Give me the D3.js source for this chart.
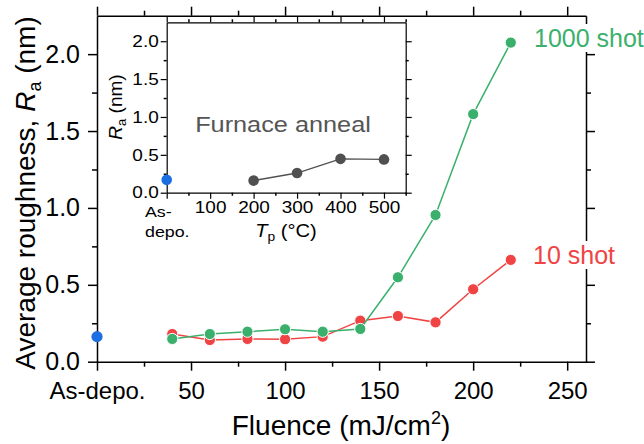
<!DOCTYPE html>
<html>
<head>
<meta charset="utf-8">
<script src="https://cdn.jsdelivr.net/npm/d3@7"></script>
<style>
  html, body { margin: 0; padding: 0; background: #fff; }
  svg { display: block; font-family: "Liberation Sans", Arial, sans-serif; }
  .domain, .tick line { stroke: #000; stroke-width: 1.5; }
  .tick text { fill: #000; }
</style>
</head>
<body>
<div id="chart"></div>
<script>
// main plot data (laser anneal)
const fluence = [40, 60, 80, 100, 120, 140, 160, 180, 200, 220];
const ra10Shot = [0.18, 0.141, 0.148, 0.146, 0.163, 0.267, 0.297, 0.256, 0.471, 0.662];
const ra1000Shot = [0.148, 0.18, 0.195, 0.211, 0.195, 0.213, 0.549, 0.954, 1.61, 2.075];
const asDepoRa = 0.163;

const xMajor = [0, 50, 100, 150, 200, 250];
const xMinor = [25, 75, 125, 175, 225];
const yMajor = [0, 0.5, 1.0, 1.5, 2.0];
const yMinor = [0.25, 0.75, 1.25, 1.75];

// inset data (furnace anneal)
const annealTemp = [200, 300, 400, 500];
const annealRa = [0.16, 0.26, 0.447, 0.44];
const insetAsDepoRa = 0.17;

const insetXMajor = [0, 100, 200, 300, 400, 500];
const insetXMinor = [50, 150, 250, 350, 450, 550];

const colors = { shot10: "#f04343", shot1000: "#3bb06d", asDepo: "#1b6fe2", furnace: "#505050" };

const width = 644, height = 444;
const svg = d3.select("#chart").append("svg")
  .attr("width", width).attr("height", height);

const x = d3.scaleLinear([0, 260], [97, 586]);
const y = d3.scaleLinear([0, 2.25], [361.7, 15.7]);

function drawAxis(axis, tx, ty, cls) {
  const g = svg.append("g").attr("class", cls)
    .attr("transform", `translate(${tx},${ty})`).call(axis);
  return g;
}
function noDomain(g) { g.select(".domain").remove(); }

const fmt = d3.format(".1f");

// main axes - major
drawAxis(d3.axisBottom(x).tickValues(xMajor).tickSize(9).tickSizeOuter(0).tickPadding(11)
  .tickFormat(d => d === 0 ? "As-depo." : d), 0, y.range()[0], "xb")
  .selectAll("text").style("font-size", "24px");
drawAxis(d3.axisTop(x).tickValues(xMajor).tickSize(9).tickSizeOuter(0).tickFormat(""), 0, y.range()[1], "xt");
drawAxis(d3.axisLeft(y).tickValues(yMajor).tickSize(9).tickSizeOuter(0).tickPadding(8)
  .tickFormat(fmt), x.range()[0], 0, "yl")
  .selectAll("text").style("font-size", "25px");
drawAxis(d3.axisRight(y).tickValues(yMajor).tickSize(9).tickSizeOuter(0).tickFormat(""), x.range()[1], 0, "yr");
// main axes - minor
noDomain(drawAxis(d3.axisBottom(x).tickValues(xMinor).tickSize(5).tickFormat(""), 0, y.range()[0], "m"));
noDomain(drawAxis(d3.axisTop(x).tickValues(xMinor).tickSize(5).tickFormat(""), 0, y.range()[1], "m"));
noDomain(drawAxis(d3.axisLeft(y).tickValues(yMinor).tickSize(5).tickFormat(""), x.range()[0], 0, "m"));
noDomain(drawAxis(d3.axisRight(y).tickValues(yMinor).tickSize(5).tickFormat(""), x.range()[1], 0, "m"));

// axis titles
const xt = svg.append("text")
  .attr("x", 341).attr("y", 435).attr("text-anchor", "middle")
  .style("font-size", "28px").text("Fluence (mJ/cm");
xt.append("tspan").attr("dy", -11).style("font-size", "18px").text("2");
xt.append("tspan").attr("dy", 11).text(")");

const yt = svg.append("text")
  .attr("transform", "translate(35,193) rotate(-90)")
  .attr("text-anchor", "middle").style("font-size", "28px")
  .text("Average roughness, ");
yt.append("tspan").style("font-style", "italic").text("R");
yt.append("tspan").attr("dy", 6).style("font-size", "18px").text("a");
yt.append("tspan").attr("dy", -6).text(" (nm)");

// series
const line = d3.line().x(d => x(d[0])).y(d => y(d[1]));
const s10 = fluence.map((f, i) => [f, ra10Shot[i]]);
const s1000 = fluence.map((f, i) => [f, ra1000Shot[i]]);

function series(data, color) {
  svg.append("path").datum(data).attr("d", line)
    .attr("fill", "none").attr("stroke", color).attr("stroke-width", 1.5);
  svg.append("g").selectAll("circle").data(data).join("circle")
    .attr("cx", d => x(d[0])).attr("cy", d => y(d[1])).attr("r", 5.6)
    .attr("fill", color).attr("stroke", "#fff").attr("stroke-width", 1);
}
series(s10, colors.shot10);
series(s1000, colors.shot1000);

svg.append("circle").attr("cx", x(0)).attr("cy", y(asDepoRa)).attr("r", 5.6)
  .attr("fill", colors.asDepo);

// series labels with white background
function label(txt, lx, ly, color) {
  const g = svg.append("g");
  const bg = g.append("rect").attr("fill", "#fff");
  const t = g.append("text").attr("x", lx).attr("y", ly)
    .style("font-size", "25px").attr("fill", color).text(txt);
  const b = t.node().getBBox();
  bg.attr("x", b.x - 2).attr("y", b.y).attr("width", b.width + 4).attr("height", b.height);
}
label("1000 shot", 534, 47, colors.shot1000);
label("10 shot", 533, 264, colors.shot10);

// ---- inset ----
const xi = d3.scaleLinear([0, 550], [166.7, 405.7]);
const yi = d3.scaleLinear([0, 2.25], [192.7, 22.3]);
const stretchX = 1.15;

function stretch(sel) {
  sel.each(function () {
    const t = d3.select(this);
    const ax = +t.attr("x") || 0;
    t.attr("transform", `translate(${ax},0) scale(${stretchX},1) translate(${-ax},0)`);
  });
}

svg.append("rect").attr("x", xi.range()[0]).attr("y", yi.range()[1])
  .attr("width", xi.range()[1] - xi.range()[0]).attr("height", yi.range()[0] - yi.range()[1])
  .attr("fill", "#fff");

const ib = drawAxis(d3.axisBottom(xi).tickValues(insetXMajor).tickSize(6).tickSizeOuter(0).tickPadding(3)
  .tickFormat(d => d === 0 ? "" : d), 0, yi.range()[0], "ixb");
ib.selectAll("text").style("font-size", "16.5px").call(stretch);
drawAxis(d3.axisTop(xi).tickValues(insetXMajor).tickSize(6).tickSizeOuter(0).tickFormat(""), 0, yi.range()[1], "ixt");
const il = drawAxis(d3.axisLeft(yi).tickValues(yMajor).tickSize(6).tickSizeOuter(0).tickPadding(2)
  .tickFormat(fmt), xi.range()[0], 0, "iyl");
il.selectAll("text").style("font-size", "16.5px").call(stretch);
drawAxis(d3.axisRight(yi).tickValues(yMajor).tickSize(6).tickSizeOuter(0).tickFormat(""), xi.range()[1], 0, "iyr");
noDomain(drawAxis(d3.axisBottom(xi).tickValues(insetXMinor).tickSize(3).tickFormat(""), 0, yi.range()[0], "m"));
noDomain(drawAxis(d3.axisTop(xi).tickValues(insetXMinor).tickSize(3).tickFormat(""), 0, yi.range()[1], "m"));
noDomain(drawAxis(d3.axisLeft(yi).tickValues(yMinor).tickSize(3).tickFormat(""), xi.range()[0], 0, "m"));
noDomain(drawAxis(d3.axisRight(yi).tickValues(yMinor).tickSize(3).tickFormat(""), xi.range()[1], 0, "m"));
svg.selectAll(".ixb .domain, .ixt .domain, .iyl .domain, .iyr .domain, .ixb line, .ixt line, .iyl line, .iyr line, .m line")
  .filter(function () { return this.closest(".m") === null || true; });
svg.selectAll("[class^=i] .domain, [class^=i] .tick line").style("stroke-width", 1.2);

// As-depo. two-line label on the inset x axis
const asd = svg.append("text").attr("x", 145).attr("y", 216.7).style("font-size", "15.5px");
asd.append("tspan").attr("x", 145).text("As-");
asd.append("tspan").attr("x", 145).attr("dy", 20).text("depo.");
asd.call(stretch);

const ixt = svg.append("text").attr("x", 286).attr("y", 237)
  .attr("text-anchor", "middle").style("font-size", "17.5px");
ixt.append("tspan").style("font-style", "italic").text("T");
ixt.append("tspan").attr("dy", 4).style("font-size", "12px").text("p");
ixt.append("tspan").attr("dy", -4).text(" (°C)");
ixt.call(stretch);

const iyt = svg.append("text").attr("transform", "translate(122,107) rotate(-90)")
  .attr("text-anchor", "middle").style("font-size", "19px");
iyt.append("tspan").style("font-style", "italic").text("R");
iyt.append("tspan").attr("dy", 4).style("font-size", "13px").text("a");
iyt.append("tspan").attr("dy", -4).text(" (nm)");

const fa = svg.append("text").attr("x", 283).attr("y", 132.5).attr("text-anchor", "middle")
  .style("font-size", "22px").attr("fill", "#555").text("Furnace anneal");
fa.call(stretch);

const furnace = annealTemp.map((t, i) => [t, annealRa[i]]);
svg.append("path").datum(furnace)
  .attr("d", d3.line().x(d => xi(d[0])).y(d => yi(d[1])))
  .attr("fill", "none").attr("stroke", colors.furnace).attr("stroke-width", 1.3);
svg.append("g").selectAll("circle").data(furnace).join("circle")
  .attr("cx", d => xi(d[0])).attr("cy", d => yi(d[1])).attr("r", 5.3)
  .attr("fill", colors.furnace);
svg.append("circle").attr("cx", xi(0)).attr("cy", yi(insetAsDepoRa)).attr("r", 5.3)
  .attr("fill", colors.asDepo);
</script>
</body>
</html>
